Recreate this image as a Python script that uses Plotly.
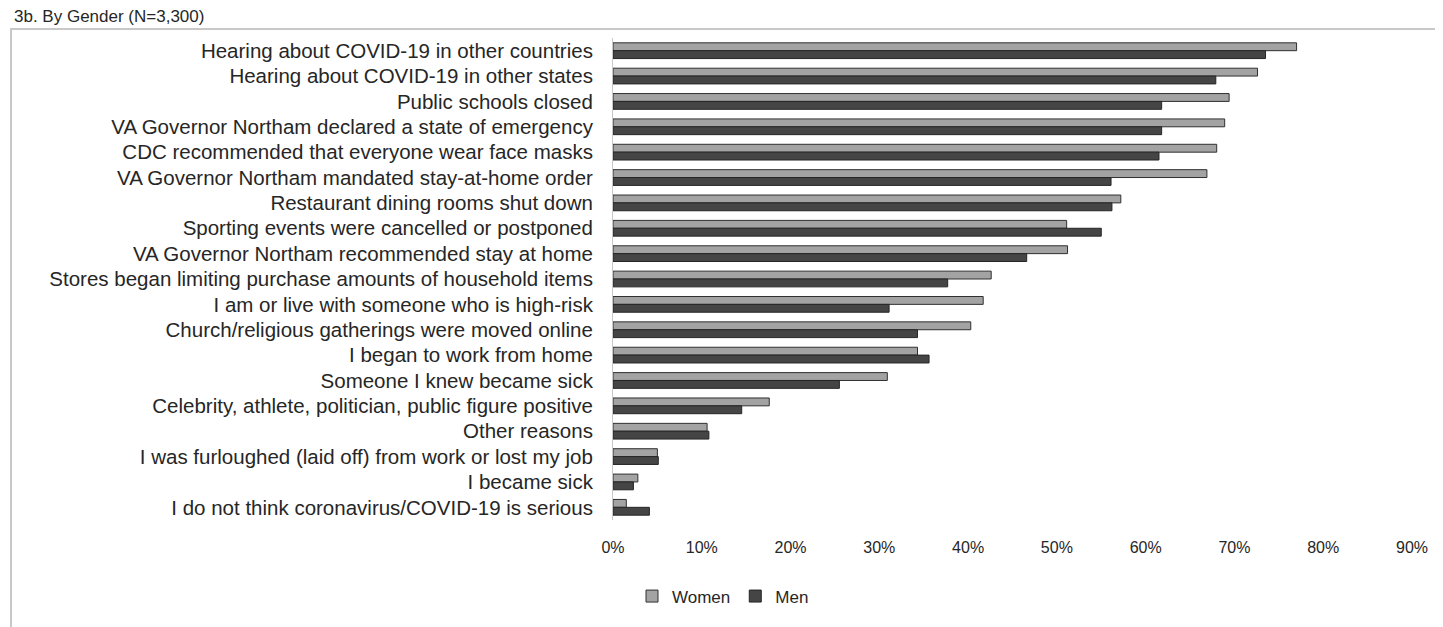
import plotly.graph_objects as go

categories = [
    "Hearing about COVID-19 in other countries",
    "Hearing about COVID-19 in other states",
    "Public schools closed",
    "VA Governor Northam declared a state of emergency",
    "CDC recommended that everyone wear face masks",
    "VA Governor Northam mandated stay-at-home order",
    "Restaurant dining rooms shut down",
    "Sporting events were cancelled or postponed",
    "VA Governor Northam recommended stay at home",
    "Stores began limiting purchase amounts of household items",
    "I am or live with someone who is high-risk",
    "Church/religious gatherings were moved online",
    "I began to work from home",
    "Someone I knew became sick",
    "Celebrity, athlete, politician, public figure positive",
    "Other reasons",
    "I was furloughed (laid off) from work or lost my job",
    "I became sick",
    "I do not think coronavirus/COVID-19 is serious",
]
women = [77.0, 72.6, 69.4, 68.9, 68.0, 66.9, 57.2, 51.1, 51.2, 42.6,
         41.7, 40.3, 34.3, 30.9, 17.6, 10.6, 5.0, 2.8, 1.5]
men = [73.5, 67.9, 61.8, 61.8, 61.5, 56.1, 56.2, 55.0, 46.6, 37.7,
       31.1, 34.3, 35.6, 25.5, 14.5, 10.8, 5.1, 2.3, 4.1]
tick_vals = [0, 10, 20, 30, 40, 50, 60, 70, 80, 90]
tick_text = [f"{v}%" for v in tick_vals]
title_text = "3b. By Gender (N=3,300)"

OFF = 8  # page body margin
WIN_W, WIN_H = 1443, 627
W, H = WIN_W - OFF, WIN_H - OFF
# plot area in window pixels
PX0, PX1, PY0, PY1 = 613, 1412, 38, 523
L, R = PX0 - OFF, W - (PX1 - OFF)
T, B = PY0 - OFF, H - (PY1 - OFF)
pw, ph = PX1 - PX0, PY1 - PY0

def px_x(p):
    return (p - PX0) / pw

def px_y(p):
    return (PY1 - p) / ph

FONT = "Liberation Sans, Arial, sans-serif"
TXT = "#262626"

fig = go.Figure()
fig.add_trace(go.Bar(
    y=categories, x=women, name="Women", orientation="h",
    marker=dict(color="#a3a3a3", line=dict(color="#303030", width=1)),
))
fig.add_trace(go.Bar(
    y=categories, x=men, name="Men", orientation="h",
    marker=dict(color="#454545", line=dict(color="#262626", width=1)),
))

fig.update_layout(
    width=W, height=H,
    margin=dict(l=L, r=R, t=T, b=B, pad=0),
    barmode="group", bargap=0.38, bargroupgap=0,
    plot_bgcolor="white", paper_bgcolor="white",
    font=dict(family=FONT, color=TXT, size=16),
    showlegend=True,
    legend=dict(
        orientation="h", x=px_x(632), xanchor="left",
        y=px_y(600), yanchor="middle",
        font=dict(size=17, color=TXT), itemwidth=30,
        traceorder="normal", bgcolor="rgba(0,0,0,0)",
    ),
    xaxis=dict(
        range=[0, 90], tickvals=tick_vals, ticktext=tick_text,
        showgrid=False, zeroline=False, showline=False,
        ticks="outside", ticklen=13, tickcolor="rgba(0,0,0,0)",
        tickfont=dict(size=16, color=TXT),
    ),
    yaxis=dict(
        autorange="reversed", showgrid=False, zeroline=False,
        showline=True, linecolor="#c8c8c8", linewidth=1,
        ticks="outside", ticklen=15, tickcolor="rgba(0,0,0,0)",
        tickfont=dict(size=20.5, color=TXT),
    ),
    shapes=[dict(
        type="rect", xref="paper", yref="paper",
        x0=px_x(11), x1=px_x(1440), y0=px_y(660), y1=px_y(29),
        line=dict(color="#c8c8c8", width=2), fillcolor="rgba(0,0,0,0)",
        layer="below",
    )],
    annotations=[dict(
        text=title_text, xref="paper", yref="paper",
        x=px_x(12), xanchor="left", y=px_y(28), yanchor="bottom",
        showarrow=False, font=dict(size=17, color=TXT),
    )],
)

fig.write_html("out.html")
